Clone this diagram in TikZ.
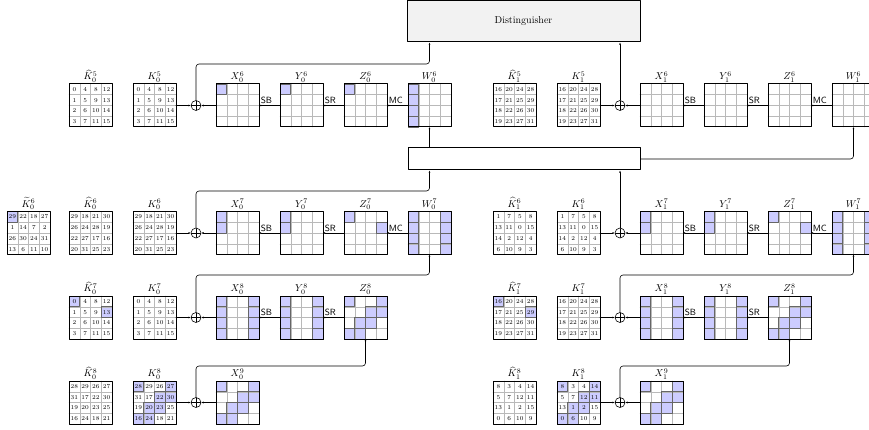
\documentclass[tikz,border=0pt]{standalone}
\usetikzlibrary{arrows.meta}

\definecolor{hlblue}{RGB}{204,204,255}
\definecolor{distgray}{RGB}{242,242,242}

\tikzset{
  state/.style={minimum size=43pt, inner sep=0pt, outer sep=0pt},
  lab/.style={above, inner sep=1.5pt},
  xorop/.style={circle, draw, line width=0.6pt, minimum size=10pt, inner sep=0pt,
    path picture={\draw[line width=0.6pt] (path picture bounding box.north) -- (path picture bounding box.south)
      (path picture bounding box.west) -- (path picture bounding box.east);}},
  conn/.style={line width=0.6pt, -{Latex[length=2.2pt,width=2pt]}},
  oplab/.style={font=\small\sffamily, anchor=south west, inner sep=1.5pt},
}

\def\cs{10.75}
% cells of a 4x4 state, #2 = highlighted cells r/c
\newcommand{\cells}[2]{%
  \begin{scope}[shift={(#1.north west)}]
    \foreach \r/\c in {#2} {\fill[hlblue] (\c*\cs,\r*\cs) rectangle ++(\cs,\cs);}
    \foreach \i in {1,2,3} {
      \draw[gray!55, line width=0.5pt] (\i*\cs,0) -- (\i*\cs,4*\cs);
      \draw[gray!55, line width=0.5pt] (0,\i*\cs) -- (4*\cs,\i*\cs);}
    \foreach \r/\c in {#2} {\draw[black!60, line width=0.7pt] (\c*\cs,\r*\cs) rectangle ++(\cs,\cs);}
    \draw[line width=1pt] (0,0) rectangle (4*\cs,4*\cs);
  \end{scope}}
\newcommand{\stategrid}[4]{%
  \node[state] (#1) at (#2) {};
  \node[lab] (#1-l) at (#1.north) {#3};
  \cells{#1}{#4}}
\newcommand{\keygrid}[5]{%
  \node[state] (#1) at (#2) {};
  \node[lab] (#1-l) at (#1.north) {#3};
  \cells{#1}{#5}
  \begin{scope}[shift={(#1.north west)}, font=\fontsize{6}{7}\selectfont]
    \foreach \n [count=\k from 0] in {#4} {
      \pgfmathtruncatemacro\rr{div(\k,4)}
      \pgfmathtruncatemacro\cc{mod(\k,4)}
      \node[inner sep=0pt] (#1-\k) at ({(\cc+0.5)*\cs},{(\rr+0.5)*\cs}) {\n};}
  \end{scope}}

\begin{document}
\begin{tikzpicture}[x=1pt,y=-1pt,line cap=round,line join=round]
\clip (0,0) rectangle (869,430);

% distinguisher and middle box
\node[draw, fill=distgray, line width=1pt, minimum width=233pt, minimum height=41pt] (dist) at (523.5,21.5) {Distinguisher};
\node[draw, fill=white, line width=1pt, minimum width=232pt, minimum height=22pt] (mix) at (524,159) {};

%% round 6
\keygrid{Kh05}{90.5,105.5}{$\widehat{K}_0^5$}{0,4,8,12,1,5,9,13,2,6,10,14,3,7,11,15}{}
\keygrid{K05}{154.5,105.5}{$K_0^5$}{0,4,8,12,1,5,9,13,2,6,10,14,3,7,11,15}{}
\node[xorop] (xor06) at (196,105.5) {};
\stategrid{X06}{237.5,105.5}{$X_0^6$}{0/0}
\stategrid{Y06}{301.5,105.5}{$Y_0^6$}{0/0}
\stategrid{Z06}{365.5,105.5}{$Z_0^6$}{0/0}
\stategrid{W06}{429.5,105.5}{$W_0^6$}{0/0,1/0,2/0,3/0}

\keygrid{Kh15}{514.5,105.5}{$\widehat{K}_1^5$}{16,20,24,28,17,21,25,29,18,22,26,30,19,23,27,31}{}
\keygrid{K15}{578.5,105.5}{$K_1^5$}{16,20,24,28,17,21,25,29,18,22,26,30,19,23,27,31}{}
\node[xorop] (xor16) at (620,105.5) {};
\stategrid{X16}{661.5,105.5}{$X_1^6$}{}
\stategrid{Y16}{725.5,105.5}{$Y_1^6$}{}
\stategrid{Z16}{789.5,105.5}{$Z_1^6$}{}
\stategrid{W16}{853.5,105.5}{$W_1^6$}{}

%% round 7
\keygrid{Kt06}{28.5,233}{$\widetilde{K}_0^6$}{29,22,18,27,1,14,7,2,26,30,24,31,13,6,11,10}{0/0}
\keygrid{Kh06}{90.5,233}{$\widehat{K}_0^6$}{29,18,21,30,26,24,28,19,22,27,17,16,20,31,25,23}{}
\keygrid{K06}{154.5,233}{$K_0^6$}{29,18,21,30,26,24,28,19,22,27,17,16,20,31,25,23}{}
\node[xorop] (xor07) at (196,233) {};
\stategrid{X07}{237.5,233}{$X_0^7$}{0/0,1/0}
\stategrid{Y07}{301.5,233}{$Y_0^7$}{0/0,1/0}
\stategrid{Z07}{365.5,233}{$Z_0^7$}{0/0,1/3}
\stategrid{W07}{429.5,233}{$W_0^7$}{0/0,1/0,2/0,3/0,0/3,1/3,2/3,3/3}

\keygrid{Kh16}{514.5,233}{$\widehat{K}_1^6$}{1,7,5,8,13,11,0,15,14,2,12,4,6,10,9,3}{}
\keygrid{K16}{578.5,233}{$K_1^6$}{1,7,5,8,13,11,0,15,14,2,12,4,6,10,9,3}{}
\node[xorop] (xor17) at (620,233) {};
\stategrid{X17}{661.5,233}{$X_1^7$}{0/0,1/0}
\stategrid{Y17}{725.5,233}{$Y_1^7$}{0/0,1/0}
\stategrid{Z17}{789.5,233}{$Z_1^7$}{0/0,1/3}
\stategrid{W17}{853.5,233}{$W_1^7$}{0/0,1/0,2/0,3/0,0/3,1/3,2/3,3/3}

%% round 8
\keygrid{Kh07}{90.5,317.5}{$\widehat{K}_0^7$}{0,4,8,12,1,5,9,13,2,6,10,14,3,7,11,15}{0/0,1/3}
\keygrid{K07}{154.5,317.5}{$K_0^7$}{0,4,8,12,1,5,9,13,2,6,10,14,3,7,11,15}{}
\node[xorop] (xor08) at (196,317.5) {};
\stategrid{X08}{237.5,317.5}{$X_0^8$}{0/0,1/0,2/0,3/0,0/3,1/3,2/3,3/3}
\stategrid{Y08}{301.5,317.5}{$Y_0^8$}{0/0,1/0,2/0,3/0,0/3,1/3,2/3,3/3}
\stategrid{Z08}{365.5,317.5}{$Z_0^8$}{0/0,0/3,1/2,1/3,2/1,2/2,3/0,3/1}

\keygrid{Kh17}{514.5,317.5}{$\widehat{K}_1^7$}{16,20,24,28,17,21,25,29,18,22,26,30,19,23,27,31}{0/0,1/3}
\keygrid{K17}{578.5,317.5}{$K_1^7$}{16,20,24,28,17,21,25,29,18,22,26,30,19,23,27,31}{}
\node[xorop] (xor18) at (620,317.5) {};
\stategrid{X18}{661.5,317.5}{$X_1^8$}{0/0,1/0,2/0,3/0,0/3,1/3,2/3,3/3}
\stategrid{Y18}{725.5,317.5}{$Y_1^8$}{0/0,1/0,2/0,3/0,0/3,1/3,2/3,3/3}
\stategrid{Z18}{789.5,317.5}{$Z_1^8$}{0/0,0/3,1/2,1/3,2/1,2/2,3/0,3/1}

%% round 9
\keygrid{Kh08}{90.5,402.5}{$\widehat{K}_0^8$}{28,29,26,27,31,17,22,30,19,20,23,25,16,24,18,21}{}
\keygrid{K08}{154.5,402.5}{$K_0^8$}{28,29,26,27,31,17,22,30,19,20,23,25,16,24,18,21}{0/0,0/3,1/2,1/3,2/1,2/2,3/0,3/1}
\node[xorop] (xor09) at (196,402.5) {};
\stategrid{X09}{237.5,402.5}{$X_0^9$}{0/0,0/3,1/2,1/3,2/1,2/2,3/0,3/1}

\keygrid{Kh18}{514.5,402.5}{$\widehat{K}_1^8$}{8,3,4,14,5,7,12,11,13,1,2,15,0,6,10,9}{}
\keygrid{K18}{578.5,402.5}{$K_1^8$}{8,3,4,14,5,7,12,11,13,1,2,15,0,6,10,9}{0/0,0/3,1/2,1/3,2/1,2/2,3/0,3/1}
\node[xorop] (xor19) at (620,402.5) {};
\stategrid{X19}{661.5,402.5}{$X_1^9$}{0/0,0/3,1/2,1/3,2/1,2/2,3/0,3/1}

% bends
\coordinate (b06) at (429.5,64);
\coordinate (b07) at (429.5,191);
\coordinate (b08) at (429.5,275);
\coordinate (b09) at (365.5,366);
\coordinate (b18) at (853.5,275);
\coordinate (b19) at (789.5,366);

% key and state into xor
\foreach \k/\x in {K05/xor06,K15/xor16,K06/xor07,K16/xor17,K07/xor08,K17/xor18,K08/xor09,K18/xor19}
  \draw[conn] (\k.east) -- (\x.west);
\foreach \s/\x in {X06/xor06,X16/xor16,X07/xor07,X17/xor17,X08/xor08,X18/xor18,X09/xor09,X19/xor19}
  \draw[conn] (\s.west) -- (\x.east);

% round operations
\foreach \a/\b in {Y06/X06,Y16/X16,Y07/X07,Y17/X17,Y08/X08,Y18/X18}
  \draw[conn] (\a.west) -- node[oplab, pos=1] {SB} (\b.east);
\foreach \a/\b in {Z06/Y06,Z16/Y16,Z07/Y07,Z17/Y17,Z08/Y08,Z18/Y18}
  \draw[conn] (\a.west) -- node[oplab, pos=1] {SR} (\b.east);
\foreach \a/\b in {W06/Z06,W16/Z16,W07/Z07,W17/Z17}
  \draw[conn] (\a.west) -- node[oplab, pos=1] {MC} (\b.east);

% outputs going up
\draw[conn, rounded corners=3pt] (xor06.north) |- (b06) -- (dist.south -| b06);
\draw[conn] (xor16.north) -- (dist.south -| xor16.north);
\draw[conn] (mix.north -| W06.south) -- (W06.south);
\draw[conn, rounded corners=3pt] (mix.east) -| (W16.south);
\draw[conn, rounded corners=3pt] (xor07.north) |- (b07) -- (mix.south -| b07);
\draw[conn] (xor17.north) -- (mix.south -| xor17.north);
\draw[conn, rounded corners=3pt] (xor08.north) |- (b08) -- (W07.south);
\draw[conn, rounded corners=3pt] (xor18.north) |- (b18) -- (W17.south);
\draw[conn, rounded corners=3pt] (xor09.north) |- (b09) -- (Z08.south);
\draw[conn, rounded corners=3pt] (xor19.north) |- (b19) -- (Z18.south);
\end{tikzpicture}
\end{document}
